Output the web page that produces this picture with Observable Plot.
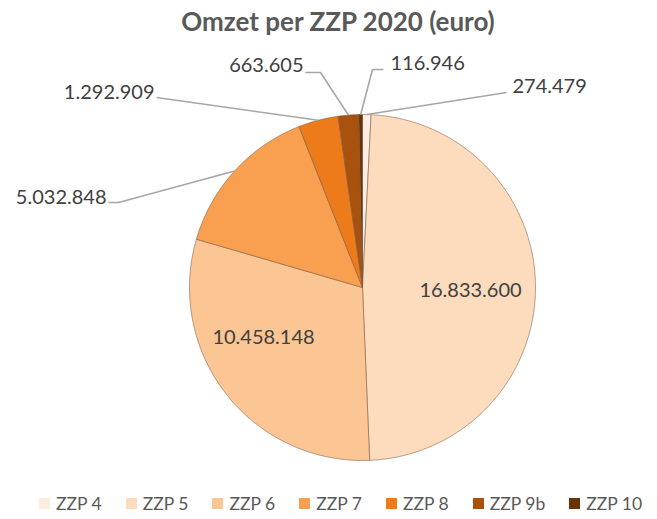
<!DOCTYPE html>
<html><head><meta charset="utf-8">
<script src="https://cdn.jsdelivr.net/npm/d3@7"></script>
<script src="https://cdn.jsdelivr.net/npm/@observablehq/plot@0.6"></script>
<style>
html,body{margin:0;padding:0;background:#fff;}
#wrap{position:relative;width:657px;height:519px;overflow:hidden;font-family:Lato,sans-serif;}
#wrap > svg{position:absolute;left:0;top:0;}
#legend{position:absolute;left:39px;top:493px;width:640px;white-space:nowrap;}
#legend .lg-swatches{font-family:Lato,sans-serif;font-size:17.5px;color:#595959;margin:0;min-height:0;display:flex;align-items:center;flex-wrap:nowrap;height:21px;line-height:21px;white-space:nowrap;}
#legend .lg-swatch{margin-right:24px;display:inline-flex;align-items:center;white-space:nowrap;flex:none;}
#legend .lg-swatch > svg{margin-right:6px;flex:none;}
</style></head><body><div id="wrap"><div id="legend"></div></div>
<script>
// ---- data ----
const title = "Omzet per ZZP 2020 (euro)";
const categories = ["ZZP 4", "ZZP 5", "ZZP 6", "ZZP 7", "ZZP 8", "ZZP 9b", "ZZP 10"];
const values = [274479, 16833600, 10458148, 5032848, 1292909, 663605, 116946];
const colors = ["#FCEEE2", "#FDDBBD", "#FBC594", "#F9A050", "#EE7B1A", "#A9520E", "#6A3306"];

// ---- layout (pixels) ----
const cx = 362, cy = 287, R = 173;
const labelLayout = {
  "ZZP 4":  {pos: [512, 86],  anchor: "start",  path: [[506, 92]]},
  "ZZP 5":  {pos: [470, 290], anchor: "middle", path: null},
  "ZZP 6":  {pos: [263, 337], anchor: "middle", path: null},
  "ZZP 7":  {pos: [106, 197], anchor: "end",    path: [[118, 202], [108, 202]]},
  "ZZP 8":  {pos: [154, 92],  anchor: "end",    path: [[156, 97]]},
  "ZZP 9b": {pos: [303, 65],  anchor: "end",    path: [[320, 72], [305, 72]]},
  "ZZP 10": {pos: [390, 63],  anchor: "start",  path: [[372, 69], [383, 69]]}
};

const fmt = d3.formatLocale({decimal: ",", thousands: ".", grouping: [3], currency: ["€", ""]}).format(",d");
const rows = categories.map((c, i) => ({key: c, value: values[i]}));
const arcs = d3.pie().sort(null).value(d => d.value)(rows);
const pt = (a, rr) => [cx + rr * Math.sin(a), cy - rr * Math.cos(a)];

const slicePts = [];
const leaderPts = [];
const labelRows = [];
for (const s of arcs) {
  const key = s.data.key;
  slicePts.push({key, x: cx, y: cy});
  const n = Math.max(2, Math.ceil((s.endAngle - s.startAngle) / (Math.PI / 360)));
  for (let k = 0; k <= n; k++) {
    const a = s.startAngle + (s.endAngle - s.startAngle) * k / n;
    const [x, y] = pt(a, R);
    slicePts.push({key, x, y});
  }
  slicePts.push({key, x: cx, y: cy});
  const L = labelLayout[key];
  const mid = (s.startAngle + s.endAngle) / 2;
  if (L.path) {
    const [ex, ey] = pt(mid, R);
    leaderPts.push({key, x: ex, y: ey});
    for (const [x, y] of L.path) leaderPts.push({key, x, y});
  }
  labelRows.push({key, x: L.pos[0], y: L.pos[1], text: fmt(s.data.value), anchor: L.anchor});
}

const textStyle = {fontFamily: "Lato, sans-serif", fontSize: 20, fill: "#404040", lineAnchor: "middle"};
const chart = Plot.plot({
  width: 657, height: 519, margin: 0,
  x: {domain: [0, 657], range: [0, 657], axis: null},
  y: {domain: [0, 519], range: [0, 519], axis: null},
  color: {type: "ordinal", domain: categories, range: colors},
  style: {background: "transparent", overflow: "visible"},
  marks: [
    Plot.line(slicePts, {x: "x", y: "y", z: "key", fill: "key", stroke: "#7a5a44", strokeWidth: 0.8, strokeOpacity: 0.7, curve: "linear"}),
    Plot.line(leaderPts, {x: "x", y: "y", z: "key", stroke: "#a6a6a6", strokeWidth: 1.6, strokeLinecap: "butt", strokeLinejoin: "miter"}),
    Plot.text(labelRows.filter(d => d.anchor === "start"), {x: "x", y: "y", text: "text", textAnchor: "start", ...textStyle}),
    Plot.text(labelRows.filter(d => d.anchor === "end"), {x: "x", y: "y", text: "text", textAnchor: "end", ...textStyle}),
    Plot.text(labelRows.filter(d => d.anchor === "middle"), {x: "x", y: "y", text: "text", textAnchor: "middle", ...textStyle}),
    Plot.text([title], {frameAnchor: "top", dx: 9, dy: 22, text: d => d, fontFamily: "Lato, sans-serif", fontSize: 26, fontWeight: "bold", fill: "#595959", lineAnchor: "middle"})
  ]
});
document.getElementById("wrap").prepend(chart);
const legend = chart.legend("color", {swatchSize: 11, className: "lg"});
document.getElementById("legend").appendChild(legend);
</script>
</body></html>
